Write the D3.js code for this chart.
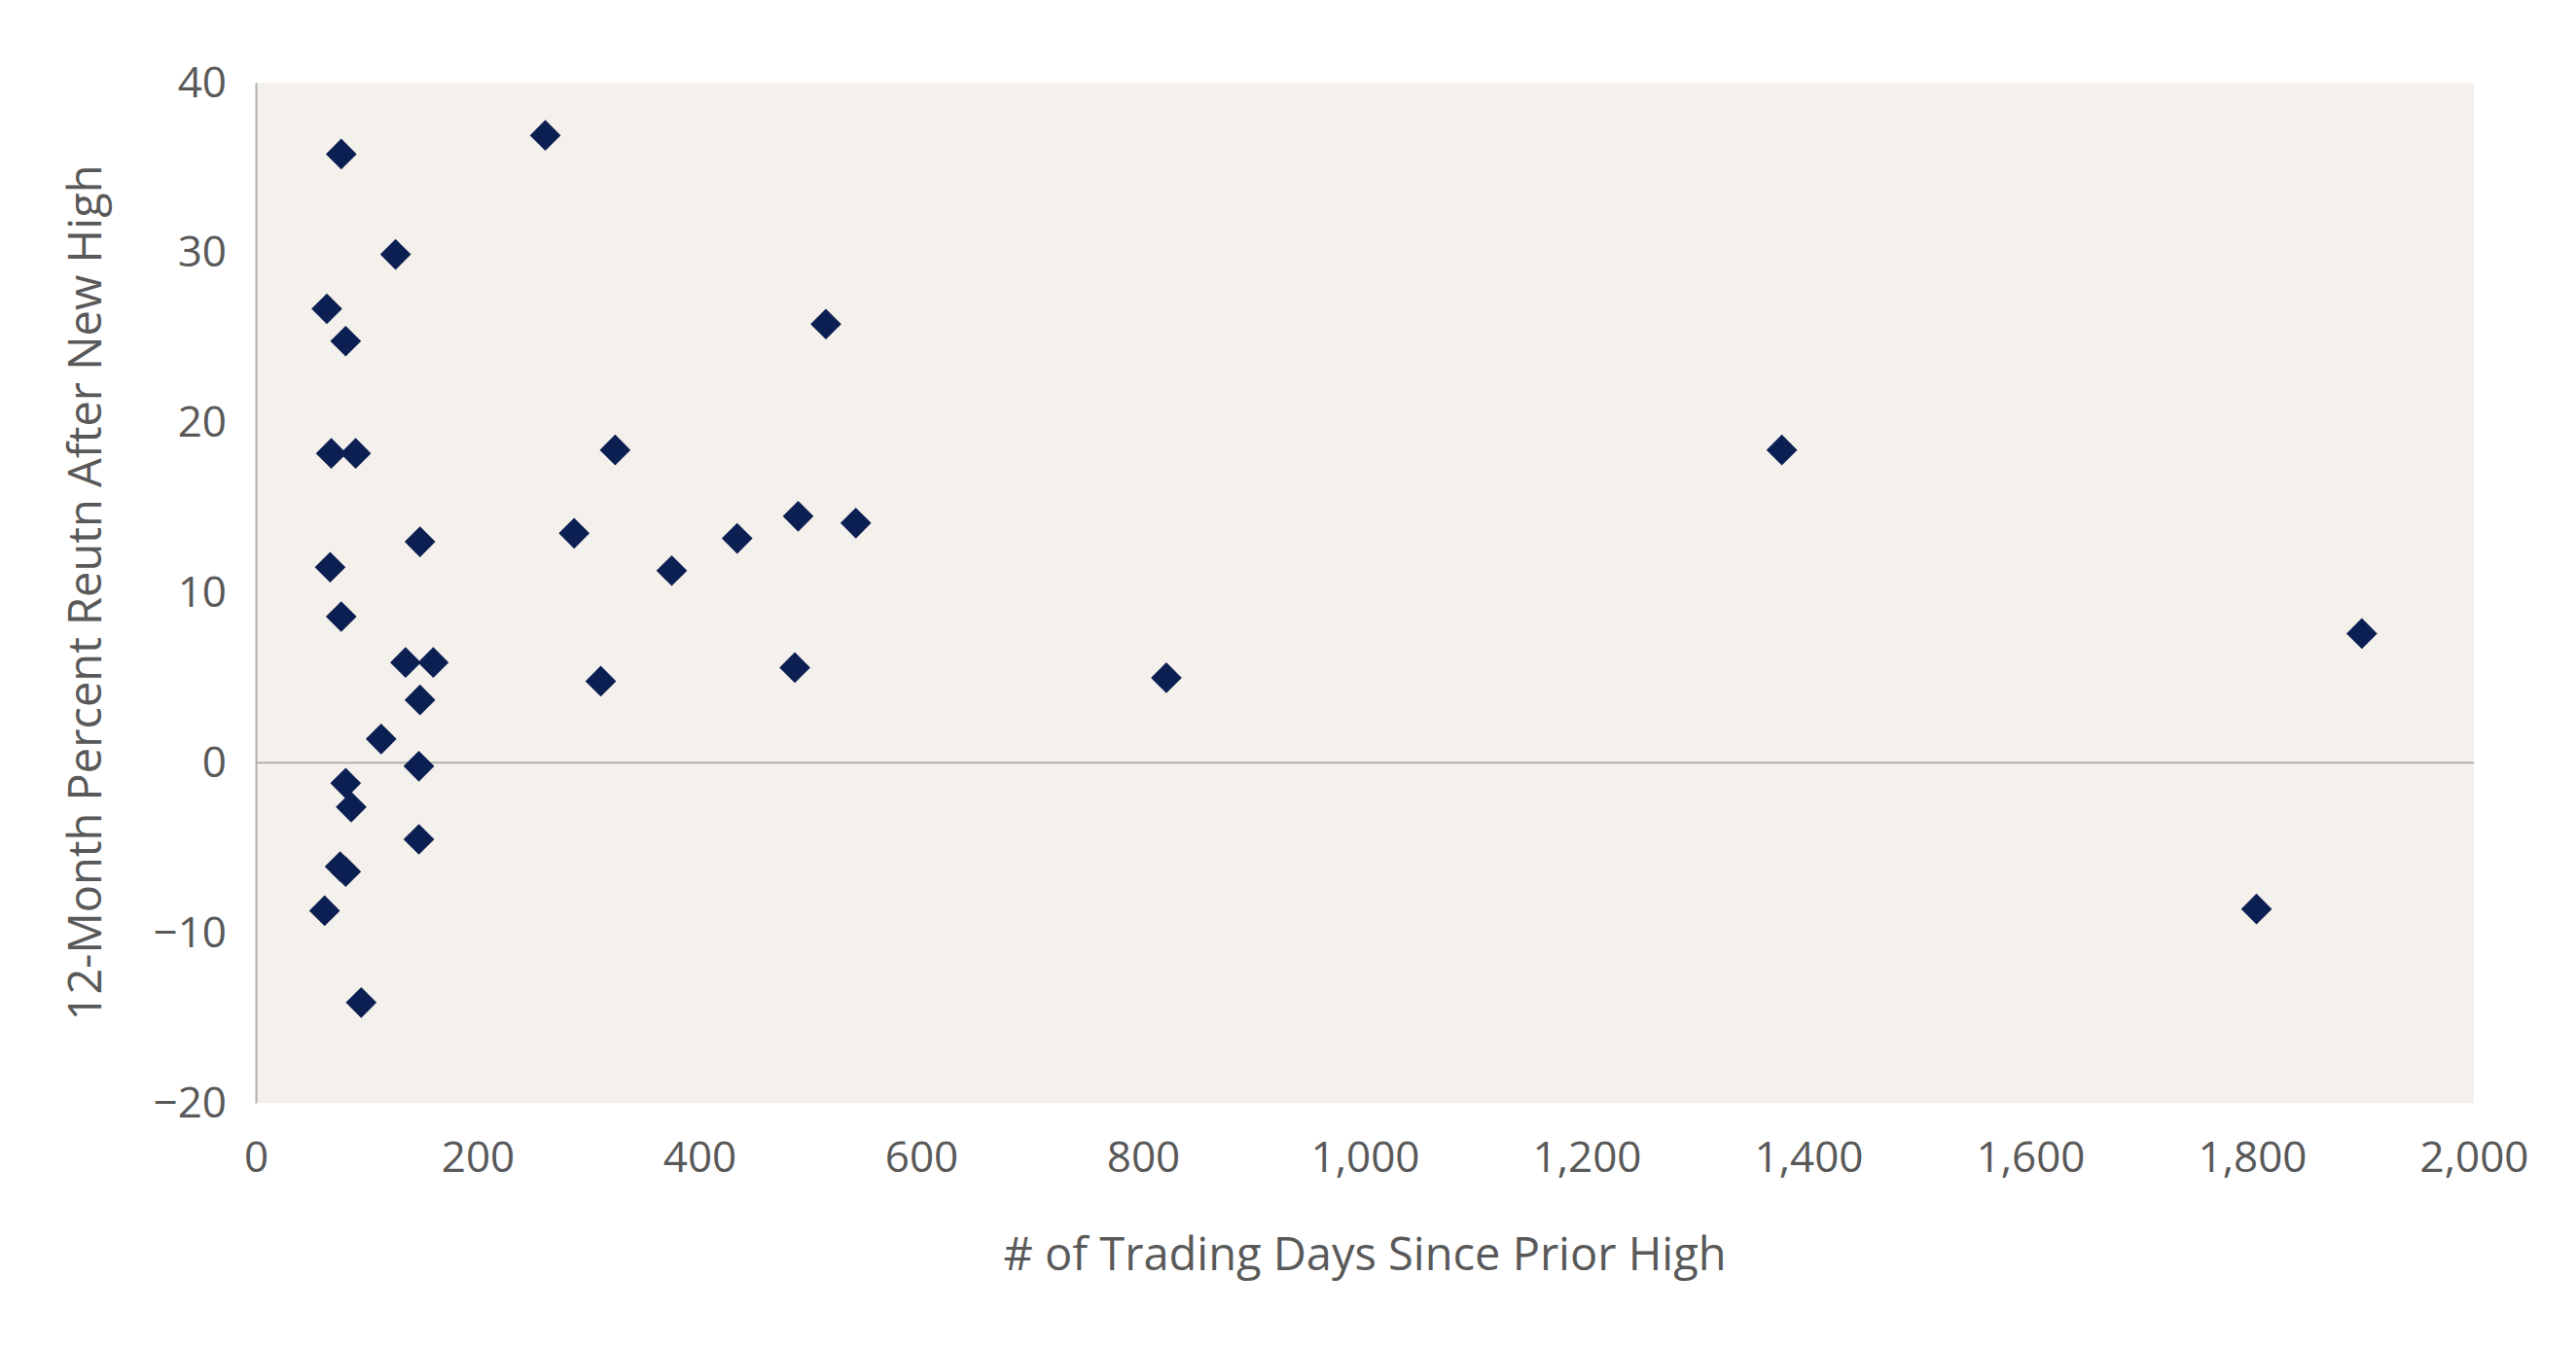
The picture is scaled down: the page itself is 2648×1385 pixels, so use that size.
<!DOCTYPE html>
<html><head><meta charset="utf-8">
<script src="https://cdn.jsdelivr.net/npm/d3@7"></script>
<style>body{margin:0;background:#fff}text{font-family:"Open Sans",Lato,sans-serif;fill:#595959}</style>
</head><body><svg id="c" width="2648" height="1385"></svg>
<script>
const days = [77,261,126,64,81,514,68,90,324,1376,148,287,434,489,541,67,375,77,1899,135,160,311,486,821,148,113,147,81,86,147,76,81,62,1804,95]
const returns = [35.8,36.9,29.9,26.7,24.8,25.8,18.2,18.2,18.4,18.4,13.0,13.5,13.2,14.5,14.1,11.5,11.3,8.6,7.6,5.9,5.9,4.8,5.6,5.0,3.7,1.4,-0.2,-1.2,-2.6,-4.5,-6.1,-6.4,-8.7,-8.6,-14.1]
const xTicks = [0,200,400,600,800,1000,1200,1400,1600,1800,2000]
const yTicks = [-20,-10,0,10,20,30,40]

const m = {left: 263, right: 2543, top: 85, bottom: 1134}
const svg = d3.select("#c")
const x = d3.scaleLinear().domain([0, 2000]).range([m.left, m.right])
const y = d3.scaleLinear().domain([-20, 40]).range([m.bottom, m.top])

svg.append("rect").attr("x", m.left).attr("y", m.top)
  .attr("width", m.right - m.left).attr("height", m.bottom - m.top).attr("fill", "#f4f0eb")

// axes (labels only)
const xa = svg.append("g").attr("transform", `translate(0,${m.bottom})`)
  .call(d3.axisBottom(x).tickValues(xTicks).tickSize(0).tickPadding(40).tickFormat(d3.format(",")))
xa.select(".domain").remove()
xa.selectAll("text").style("font-size", "44px").attr("fill", "#595959")
const ya = svg.append("g").attr("transform", `translate(${m.left},0)`)
  .call(d3.axisLeft(y).tickValues(yTicks).tickSize(0).tickPadding(30))
ya.select(".domain").attr("stroke", "#b0b0b0").attr("stroke-width", 2)
ya.selectAll("text").style("font-size", "44px").attr("fill", "#595959")

svg.append("line").attr("x1", m.left).attr("x2", m.right).attr("y1", y(0)).attr("y2", y(0))
  .attr("stroke", "#b0b0b0").attr("stroke-width", 2)

svg.selectAll(".pt").data(days.map((d, i) => [d, returns[i]])).enter()
  .append("path").attr("class", "pt")
  .attr("d", d3.symbol(d3.symbolDiamond2, 640))
  .attr("transform", d => `translate(${x(d[0])},${y(d[1])})`)
  .attr("fill", "#0c1f52")

svg.append("text").attr("x", (m.left + m.right) / 2).attr("y", 1306)
  .attr("text-anchor", "middle").style("font-size", "47px").text("# of Trading Days Since Prior High")
svg.append("text").attr("transform", `translate(104,${(m.top + m.bottom) / 2}) rotate(-90)`)
  .attr("text-anchor", "middle").style("font-size", "47px").text("12-Month Percent Reutn After New High")
</script></body></html>
